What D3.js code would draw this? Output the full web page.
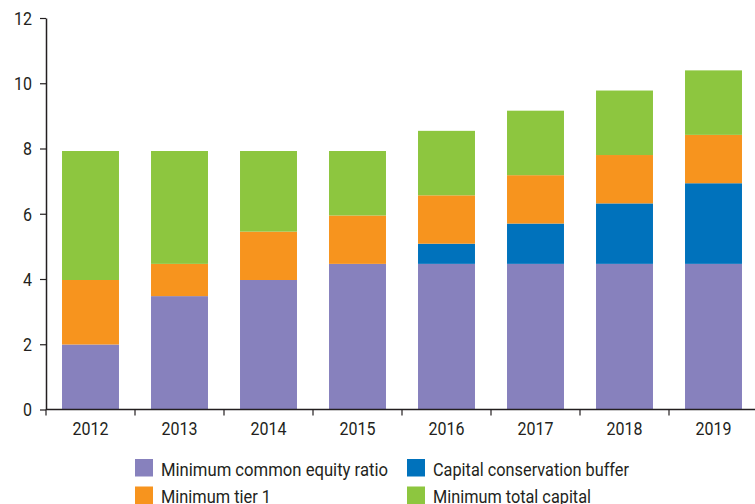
<!DOCTYPE html>
<html>
<head>
<meta charset="utf-8">
<script src="https://cdn.jsdelivr.net/npm/d3@7"></script>
<style>
  body { margin: 0; background: #fff; }
  text { font-family: "Liberation Sans Narrow", "Roboto", sans-serif; fill: #231f20; }
</style>
</head>
<body>
<svg id="chart" width="755" height="504"></svg>
<script>
const years = ["2012", "2013", "2014", "2015", "2016", "2017", "2018", "2019"];
const commonEquity = [2, 3.5, 4, 4.5, 4.5, 4.5, 4.5, 4.5];
const conservationBuffer = [0, 0, 0, 0, 0.625, 1.25, 1.875, 2.5];
const tier1 = [2, 1, 1.5, 1.5, 1.5, 1.5, 1.5, 1.5];
const totalCapital = [4, 3.5, 2.5, 2, 2, 2, 2, 2];
const yTicks = [0, 2, 4, 6, 8, 10, 12];

const seriesKeys = ["equity", "buffer", "tier1", "total"];
const seriesNames = {
    equity: "Minimum common equity ratio",
    buffer: "Capital conservation buffer",
    tier1: "Minimum tier 1",
    total: "Minimum total capital"
};
const colors = {
    equity: "#8781bd",
    buffer: "#0072bc",
    tier1: "#f7941e",
    total: "#8dc63f"
};

const table = years.map((y, i) => ({
    year: y,
    equity: commonEquity[i],
    buffer: conservationBuffer[i],
    tier1: tier1[i],
    total: totalCapital[i]
}));

const svg = d3.select("#chart");

const x = d3.scaleBand()
    .domain(years)
    .range([46, 758])
    .paddingInner(0.36)
    .paddingOuter(0.18);

// axis scale and bar scale differ slightly in the original artwork
const y = d3.scaleLinear()
    .domain([0, 12])
    .range([409.5, 18]);
const yBar = d3.scaleLinear()
    .domain([0, 12])
    .range([409, 22]);

const stacked = d3.stack().keys(seriesKeys)(table);

svg.append("g")
    .selectAll("g")
    .data(stacked)
    .enter()
    .append("g")
    .attr("fill", d => colors[d.key])
    .selectAll("rect")
    .data(d => d)
    .enter()
    .append("rect")
    .attr("x", d => x(d.data.year))
    .attr("width", x.bandwidth())
    .attr("y", d => yBar(d[1]))
    .attr("height", d => yBar(d[0]) - yBar(d[1]));

// y axis
const yAxis = svg.append("g")
    .attr("transform", "translate(46,0)")
    .call(d3.axisLeft(y).tickValues(yTicks).tickSize(6).tickSizeOuter(0));
yAxis.select(".domain").attr("stroke", "#231f20").attr("stroke-width", 1.5);
yAxis.selectAll(".tick line").attr("stroke", "#231f20").attr("stroke-width", 1.2);
yAxis.selectAll(".tick text")
    .attr("x", -14)
    .attr("dy", "0.36em")
    .attr("font-size", 18)
    .attr("fill", "#231f20")
    .attr("textLength", d => String(d).length * 9)
    .attr("lengthAdjust", "spacingAndGlyphs")
    .style("font-family", "'Liberation Sans Narrow', Roboto, sans-serif");

// x axis, ticks sit between the bars
const xAxisG = svg.append("g").attr("transform", "translate(0,409.5)");
xAxisG.append("line")
    .attr("x1", 46).attr("x2", 755)
    .attr("y1", 0).attr("y2", 0)
    .attr("stroke", "#231f20").attr("stroke-width", 1.5);

const step = x.step();
const boundaries = years.map((d, i) => 46 + i * step);
xAxisG.selectAll(".xtick")
    .data(boundaries)
    .enter()
    .append("line")
    .attr("x1", d => d).attr("x2", d => d)
    .attr("y1", 0).attr("y2", 6)
    .attr("stroke", "#231f20").attr("stroke-width", 1.2);

xAxisG.selectAll(".xlabel")
    .data(years)
    .enter()
    .append("text")
    .attr("x", d => x(d) + x.bandwidth() / 2 - 18)
    .attr("y", 25)
    .attr("font-size", 18)
    .attr("textLength", 36)
    .attr("lengthAdjust", "spacingAndGlyphs")
    .text(d => d);

// legend
const legendItems = [
    { key: "equity", col: 0, row: 0, w: 227 },
    { key: "buffer", col: 1, row: 0, w: 196 },
    { key: "tier1", col: 0, row: 1, w: 110 },
    { key: "total", col: 1, row: 1, w: 158 }
];
const legendX = [135, 407];
const legendY = [459, 486.5];

const legend = svg.append("g")
    .selectAll("g")
    .data(legendItems)
    .enter()
    .append("g")
    .attr("transform", d => "translate(" + legendX[d.col] + "," + legendY[d.row] + ")");

legend.append("rect")
    .attr("width", 18)
    .attr("height", 17.5)
    .attr("fill", d => colors[d.key]);

legend.append("text")
    .attr("x", 26)
    .attr("y", 16.5)
    .attr("font-size", 18)
    .attr("textLength", d => d.w)
    .attr("lengthAdjust", "spacingAndGlyphs")
    .text(d => seriesNames[d.key]);
</script>
</body>
</html>
